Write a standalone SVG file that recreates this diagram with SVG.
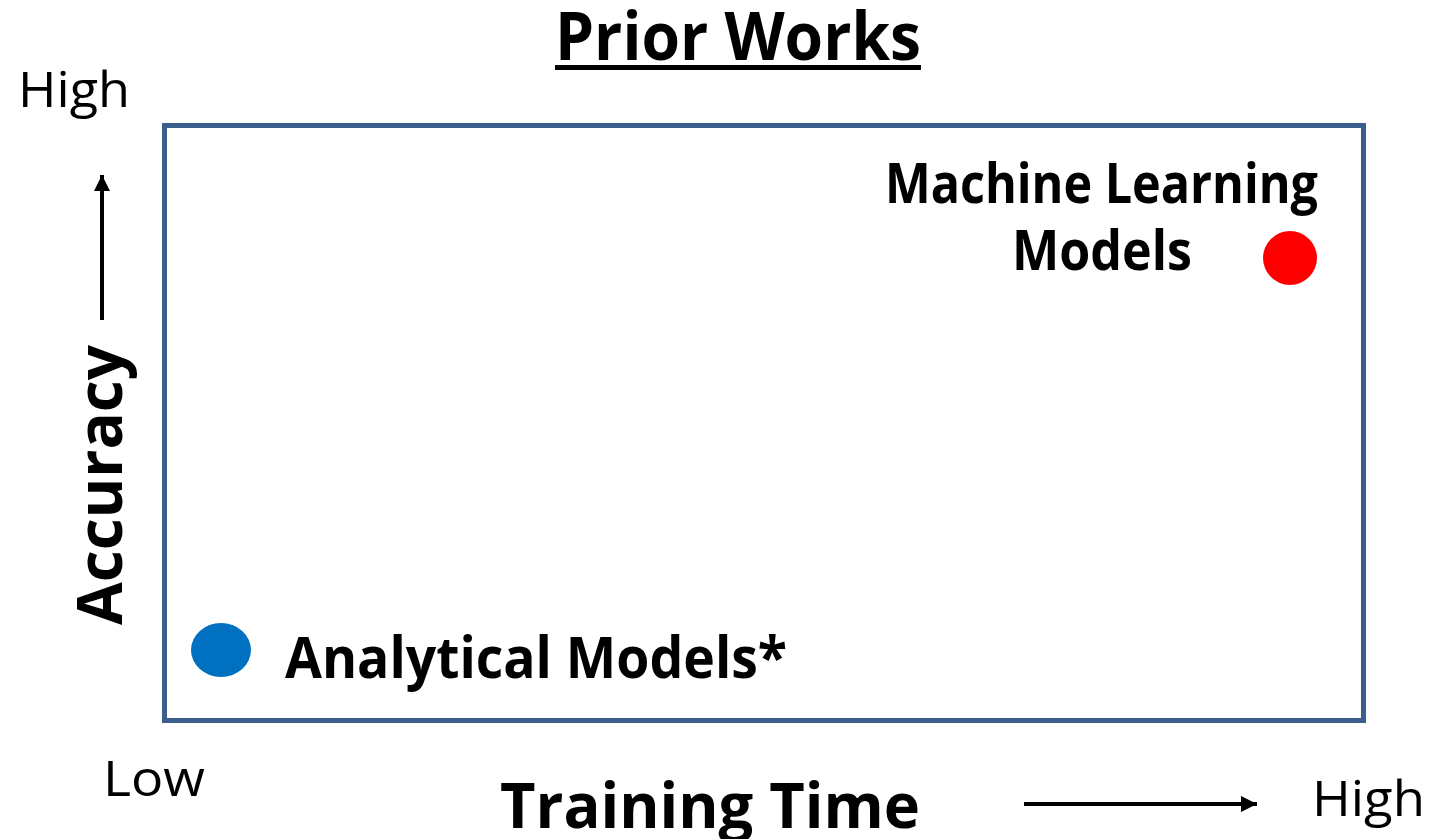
<svg xmlns="http://www.w3.org/2000/svg" width="1439" height="839" viewBox="0 0 1439 839">
<defs>
<style>
.t{font-family:"Open Sans","Liberation Sans",sans-serif;fill:#000}
.b{font-weight:bold}
.ax{stroke:#000;stroke-width:4;fill:none}
</style>
<marker id="ah" viewBox="0 0 10 10" refX="10" refY="5" markerWidth="4" markerHeight="4" markerUnits="strokeWidth" orient="auto">
<path d="M0,0 L10,5 L0,10 z" fill="#000"/>
</marker>
</defs>
<rect width="1439" height="839" fill="#fff"/>
<g id="title">
<text class="t b" x="555" y="60" font-size="66" textLength="366" lengthAdjust="spacingAndGlyphs">Prior Works</text>
<rect x="555" y="65" width="366" height="5" fill="#000"/>
</g>
<g id="plot-frame">
<rect x="164.5" y="125.5" width="1199" height="595" fill="none" stroke="#3B5E8C" stroke-width="5"/>
</g>
<g id="axis-labels">
<text class="t" x="18" y="107" font-size="49" textLength="112" lengthAdjust="spacingAndGlyphs">High</text>
<text class="t b" transform="translate(122,625) rotate(-90)" font-size="63" textLength="280" lengthAdjust="spacingAndGlyphs">Accuracy</text>
<text class="t" x="103" y="796" font-size="50" textLength="102" lengthAdjust="spacingAndGlyphs">Low</text>
<text class="t b" x="500" y="828" font-size="63" textLength="420" lengthAdjust="spacingAndGlyphs">Training Time</text>
<text class="t" x="1312" y="816" font-size="50" textLength="113" lengthAdjust="spacingAndGlyphs">High</text>
</g>
<g id="connectors">
<line class="ax" x1="102" y1="320" x2="102" y2="175" marker-end="url(#ah)"/>
<line class="ax" x1="1024" y1="804" x2="1257" y2="804" marker-end="url(#ah)"/>
</g>
<g id="ml-models">
<circle cx="1290" cy="258" r="27" fill="#FF0000"/>
<text class="t b" x="885" y="203" font-size="56" textLength="433" lengthAdjust="spacingAndGlyphs">Machine Learning</text>
<text class="t b" x="1012" y="270" font-size="56" textLength="180" lengthAdjust="spacingAndGlyphs">Models</text>
</g>
<g id="analytical-models">
<ellipse cx="221" cy="650" rx="30" ry="27" fill="#0070C0"/>
<text class="t b" x="285" y="678" font-size="58" textLength="502" lengthAdjust="spacingAndGlyphs">Analytical Models*</text>
</g>
</svg>
